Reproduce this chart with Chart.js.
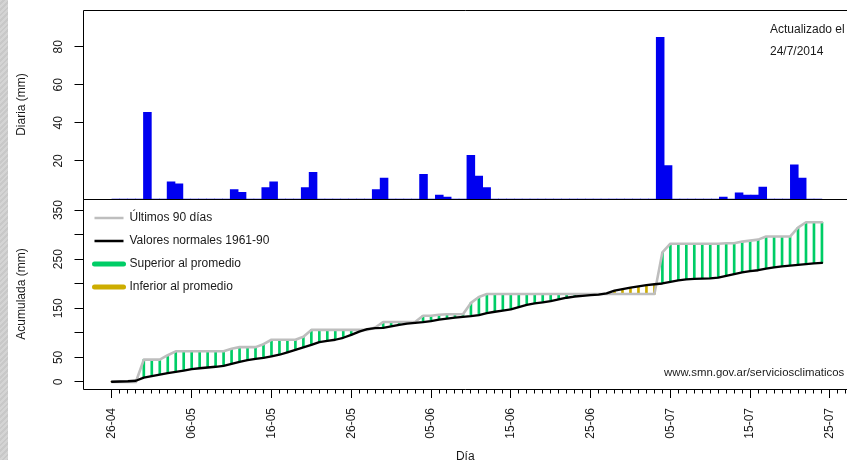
<!DOCTYPE html>
<html lang="es">
<head>
<meta charset="utf-8">
<title>Precipitación de los últimos 90 días</title>
<script src="https://cdn.jsdelivr.net/npm/chart.js@4.4.1/dist/chart.umd.min.js"></script>
<style>
  html, body { margin: 0; padding: 0; background: #fff; overflow: hidden; }
  #hoja { position: relative; width: 847px; height: 460px; overflow: hidden; background: #fff; }
  #borde { position: absolute; left: 0; top: 0; width: 8px; height: 460px;
           background: repeating-linear-gradient(135deg, #d4d4d4 0 2px, #c8c8c8 2px 4px); }
  #diaria { position: absolute; left: 0; top: 0; }
  #acumulada { position: absolute; left: 0; top: 190px; }
</style>
</head>
<body>
<div id="hoja">
  <div id="borde"></div>
  <canvas id="diaria" width="847" height="200"></canvas>
  <canvas id="acumulada" width="847" height="270"></canvas>
</div>
<script>
// Etiquetas de fecha cada 10 días (día 0 = 26-04)
const fechas = ['26-04', '06-05', '16-05', '26-05', '05-06', '15-06', '25-06', '05-07', '15-07', '25-07'];

// Precipitación diaria (mm), del 26-04 al 24-07
const diaria = [
  0, 0, 0, 0, 45.5, 0, 0, 9, 8, 0,
  0, 0, 0, 0, 0, 5, 3.5, 0, 0, 6,
  9, 0, 0, 0, 6, 14, 0, 0, 0, 0,
  0, 0, 0, 5, 11, 0, 0, 0, 0, 13,
  0, 2, 1, 0, 0, 23, 12, 6, 0, 0,
  0, 0, 0, 0, 0, 0, 0, 0, 0, 0,
  0, 0, 0, 0, 0, 0, 0, 0, 0, 85,
  17.5, 0, 0, 0, 0, 0, 0, 1, 0, 3.3,
  2, 2, 6.3, 0, 0, 0, 18, 11, 0, 0
];

// Acumulado normal 1961-90 (mm) para los mismos días
const normal = [
  0.5, 1, 1.5, 2.5, 9, 12, 15, 18, 20.5, 23,
  26, 28, 29.5, 31, 33, 37, 41, 44.5, 47, 49,
  52, 55.5, 60.5, 65.5, 70.5, 75.5, 81, 83.5, 86, 90,
  96, 102.5, 107.5, 109.5, 110, 113, 116.5, 119, 120.5, 122,
  124, 127, 129, 131, 132.5, 134, 136, 140, 143, 145.5,
  148, 152.5, 157, 160, 162, 164.5, 168, 171.5, 174, 175.5,
  177, 178, 180.5, 186, 189, 192, 194.5, 197, 199, 200.5,
  204, 207, 209, 210, 210.5, 211, 212.5, 216, 219.5, 223,
  225.5, 227.5, 231, 233.5, 235.5, 237, 238.5, 240, 241.5, 242.5
];

const ticksDiaria = [20, 40, 60, 80];
const ticksAcumulada = [0, 50, 100, 150, 200, 250, 300, 350];
const etiquetasAcumulada = [0, 50, 150, 250, 350];
const actualizacion = ['Actualizado el', '24/7/2014'];
const fuente = 'www.smn.gov.ar/serviciosclimaticos';

// Acumulado observado: suma corrida de la lluvia diaria
const acumulada = [];
diaria.reduce((suma, v, i) => (acumulada[i] = suma + v), 0);

// Segmentos verticales entre el acumulado observado y el normal
const superior = [], inferior = [];
acumulada.forEach((v, d) => {
  const seg = { x: d, y: [normal[d], v] };
  if (v > normal[d]) superior.push(seg);
  else if (v < normal[d]) inferior.push(seg);
});

const FUENTE = "'Liberation Sans', Arial, Helvetica, sans-serif";
const TEXTO = '#1a1a1a';
Chart.defaults.font.family = FUENTE;
Chart.defaults.font.size = 12;
Chart.defaults.color = TEXTO;

// Recuadro de cada panel
const marco = {
  id: 'marco',
  afterDatasetsDraw(chart) {
    const { ctx, chartArea: a } = chart;
    const l = Math.floor(a.left) + 0.5, t = Math.floor(a.top) + 0.5, b = Math.floor(a.bottom) + 0.5;
    const r = chart.width + 10;
    ctx.save();
    ctx.strokeStyle = '#000';
    ctx.lineWidth = 1;
    ctx.beginPath();
    ctx.moveTo(r, t); ctx.lineTo(l, t); ctx.lineTo(l, b); ctx.lineTo(r, b);
    ctx.stroke();
    ctx.restore();
  }
};

const notaActualizacion = {
  id: 'notaActualizacion',
  afterDraw(chart) {
    const { ctx, chartArea: a } = chart;
    ctx.save();
    ctx.fillStyle = TEXTO;
    ctx.font = '12px ' + FUENTE;
    ctx.textBaseline = 'middle';
    ctx.textAlign = 'left';
    ctx.fillText(actualizacion[0], a.left + 686.5, a.top + 19.5);
    ctx.fillText(actualizacion[1], a.left + 686.5, a.top + 42);
    ctx.restore();
  }
};

const notaFuente = {
  id: 'notaFuente',
  afterDraw(chart) {
    const { ctx, chartArea: a } = chart;
    ctx.save();
    ctx.fillStyle = TEXTO;
    ctx.font = '11.4px ' + FUENTE;
    ctx.textBaseline = 'middle';
    ctx.textAlign = 'left';
    ctx.fillText(fuente, a.left + 580.5, a.bottom - 15.7);
    ctx.restore();
  }
};

const ANCHO_EJE = 83.5;

// Panel superior: lluvia diaria
new Chart(document.getElementById('diaria'), {
  type: 'bar',
  data: {
    datasets: [{
      label: 'Diaria',
      data: diaria.map((v, d) => ({ x: d + 0.5, y: v })),
      backgroundColor: '#0000F0',
      borderWidth: 0,
      barPercentage: 1,
      categoryPercentage: 1
    }]
  },
  options: {
    responsive: false,
    animation: false,
    devicePixelRatio: 1,
    layout: { padding: { top: 10, bottom: 1, left: 0, right: 0 } },
    plugins: { legend: { display: false }, tooltip: { enabled: false } },
    scales: {
      x: { type: 'linear', display: false, min: -3.6, max: 93.18, offset: false, grid: { offset: false } },
      y: {
        min: 0, max: 99.3,
        afterBuildTicks: s => { s.ticks = ticksDiaria.map(v => ({ value: v })); },
        afterFit: s => { s.width = ANCHO_EJE; s.paddingTop = 0; s.paddingBottom = 0; },
        grid: { drawOnChartArea: false, tickLength: 9, tickColor: '#000', tickWidth: 1 },
        border: { display: false },
        ticks: { minRotation: 90, maxRotation: 90, crossAlign: 'center', padding: 9.6, autoSkip: false, color: TEXTO },
        title: { display: true, text: 'Diaria (mm)', padding: { top: 14.5, bottom: 0 }, color: TEXTO }
      }
    }
  },
  plugins: [marco, notaActualizacion]
});

// Panel inferior: acumulados
new Chart(document.getElementById('acumulada'), {
  type: 'line',
  data: {
    datasets: [
      {
        type: 'line', label: 'Últimos 90 días',
        data: acumulada.map((v, d) => ({ x: d, y: v })),
        borderColor: '#BEBEBE', borderWidth: 2.6, pointRadius: 0, tension: 0,
        borderCapStyle: 'round', borderJoinStyle: 'round', order: 1
      },
      {
        type: 'line', label: 'Valores normales 1961-90',
        data: normal.map((v, d) => ({ x: d, y: v })),
        borderColor: '#000000', borderWidth: 2.3, pointRadius: 0, tension: 0,
        borderCapStyle: 'round', borderJoinStyle: 'round', order: 0
      },
      {
        type: 'bar', label: 'Superior al promedio', data: superior,
        backgroundColor: '#00CD66', barThickness: 2, grouped: false, order: 2
      },
      {
        type: 'bar', label: 'Inferior al promedio', data: inferior,
        backgroundColor: '#CDAD00', barThickness: 2, grouped: false, order: 2
      }
    ]
  },
  options: {
    responsive: false,
    animation: false,
    devicePixelRatio: 1,
    layout: { padding: { top: 9, bottom: 0, left: 0, right: 0 } },
    plugins: {
      tooltip: { enabled: false },
      legend: {
        position: 'chartArea',
        align: 'start',
        // espacio en blanco sobre la primera fila de la leyenda
        title: { display: true, text: ' ', font: { size: 1 }, padding: { top: 9.8, bottom: 0 } },
        labels: {
          usePointStyle: true,
          pointStyleWidth: 29,
          padding: 11,
          color: TEXTO,
          generateLabels: chart => chart.data.datasets.map((ds, i) => {
            const esBarra = ds.type === 'bar';
            const color = esBarra ? ds.backgroundColor : ds.borderColor;
            return {
              text: ds.label, datasetIndex: i, pointStyle: 'line',
              strokeStyle: color, fillStyle: color,
              lineWidth: esBarra ? 5 : 2.5, lineCap: esBarra ? 'round' : 'butt',
              hidden: false, fontColor: TEXTO
            };
          })
        }
      }
    },
    scales: {
      x: {
        type: 'linear', min: -3.56, max: 92.14, offset: false,
        afterBuildTicks: s => {
          const t = [];
          for (let d = 0; d <= 92; d++) t.push({ value: d });
          s.ticks = t;
        },
        afterFit: s => { s.height = 71; s.paddingLeft = 0; s.paddingRight = 0; },
        grid: {
          drawOnChartArea: false, offset: false, tickLength: 9, tickColor: '#000', tickWidth: 1,
          tickBorderDash: c => (c.tick && c.tick.value % 10 === 0) ? [] : [4.5, 20]
        },
        border: { display: false },
        ticks: {
          minRotation: 90, maxRotation: 90, autoSkip: false, padding: 10, color: TEXTO,
          callback: v => (v % 10 === 0 && fechas[v / 10] !== undefined) ? fechas[v / 10] : ''
        },
        title: { display: true, text: 'Día', padding: { top: 0, bottom: -4 }, color: TEXTO }
      },
      y: {
        min: -14.25, max: 372.5,
        afterBuildTicks: s => { s.ticks = ticksAcumulada.map(v => ({ value: v })); },
        afterFit: s => { s.width = ANCHO_EJE; s.paddingTop = 0; s.paddingBottom = 0; },
        grid: { drawOnChartArea: false, tickLength: 9, tickColor: '#000', tickWidth: 1 },
        border: { display: false },
        ticks: {
          minRotation: 90, maxRotation: 90, crossAlign: 'center', padding: 6.3, autoSkip: false, color: TEXTO,
          callback: v => etiquetasAcumulada.includes(v) ? String(v) : ''
        },
        title: { display: true, text: 'Acumulada (mm)', padding: { top: 14.5, bottom: 0 }, color: TEXTO }
      }
    }
  },
  plugins: [marco, notaFuente]
});
</script>
</body>
</html>
